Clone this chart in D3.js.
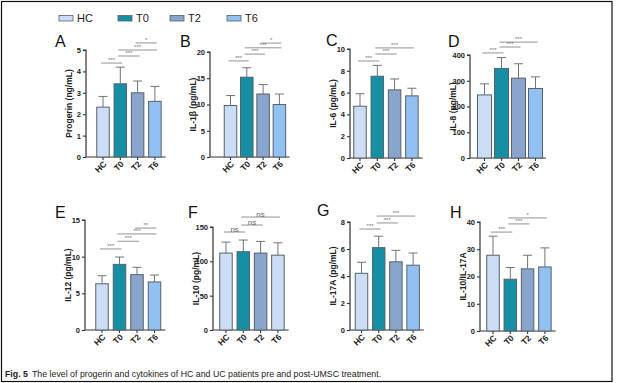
<!DOCTYPE html>
<html><head><meta charset="utf-8">
<script src="https://cdn.jsdelivr.net/npm/d3@7"></script>
<style>
html,body{margin:0;padding:0;background:#fff;}
svg{display:block;font-family:"Liberation Sans",Arial,sans-serif;}
</style></head>
<body><svg id="c" width="619" height="383"></svg>
<script>
// ---------- data ----------
const groups = ["HC", "T0", "T2", "T6"];
const panelLetters = ["A", "B", "C", "D", "E", "F", "G", "H"];
const yTitles = ["Progerin (ng/mL)", "IL-1β (pg/mL)", "IL-6 (pg/mL)", "IL-8 (pg/mL)",
                 "IL-12 (pg/mL)", "IL-10 (pg/mL)", "IL-17A (pg/mL)", "IL-10/IL-17A"];

const progerinMean = [2.33, 3.42, 3.0, 2.6];
const progerinSD   = [0.5, 0.78, 0.55, 0.7];
const il1bMean = [9.8, 15.2, 12.0, 10.0];
const il1bSD   = [1.9, 1.8, 1.8, 2.0];
const il6Mean = [4.75, 7.5, 6.25, 5.7];
const il6SD   = [1.15, 1.0, 1.0, 0.7];
const il8Mean = [245, 348, 310, 270];
const il8SD   = [43, 42, 56, 45];
const il12Mean = [6.3, 8.95, 7.55, 6.55];
const il12SD   = [1.1, 1.0, 1.0, 0.95];
const il10Mean = [112, 114, 112, 109];
const il10SD   = [16, 17, 17, 18];
const il17aMean = [4.2, 6.1, 5.05, 4.8];
const il17aSD   = [0.82, 0.85, 0.85, 0.9];
const ratioMean = [27.8, 19.0, 22.8, 23.5];
const ratioSD   = [7.0, 4.3, 5.0, 7.0];

const ticksA = [0, 1, 2, 3, 4, 5];
const ticksB = [0, 5, 10, 15, 20];
const ticksC = [0, 2, 4, 6, 8, 10];
const ticksD = [0, 100, 200, 300, 400];
const ticksE = [0, 5, 10, 15];
const ticksF = [0, 50, 100, 150];
const ticksG = [0, 2, 4, 6, 8];
const ticksH = [0, 10, 20, 30, 40];

// significance brackets: [from group, to group, level (data units), label]
const sigA = [[0, 1, 4.39, "***"], [1, 2, 4.72, "***"], [1, 3, 5.0, "***"], [2, 3, 5.33, "*"]];
const sigB = [[0, 1, 18.3, "***"], [1, 2, 19.6, "***"], [1, 3, 20.8, "***"], [2, 3, 21.7, "*"]];
const sigC = [[0, 1, 8.9, "***"], [1, 2, 9.54, "***"], [1, 3, 10.1, "***"]];
const sigD = [[0, 1, 408, "***"], [1, 2, 431, "***"], [1, 3, 450, "***"]];
const sigE = [[0, 1, 11.05, "***"], [1, 2, 12.1, "***"], [1, 3, 13.1, "***"], [2, 3, 13.9, "**"]];
const sigF = [[0, 1, 142.7, "ns"], [1, 2, 152.9, "ns"], [1, 3, 164.5, "ns"]];
const sigG = [[0, 1, 7.48, "***"], [1, 2, 7.93, "***"], [1, 3, 8.44, "***"]];
const sigH = [[0, 1, 36.3, "***"], [1, 2, 39.3, "***"], [1, 3, 41.5, "*"]];

// ---------- styles / layout ----------
const fills = {HC: "#cbdef6", T0: "#168ea3", T2: "#89a5cb", T6: "#92c0f1"};
const strokeCol = "#56616b";
const axisCol = "#333";

const means = [progerinMean, il1bMean, il6Mean, il8Mean, il12Mean, il10Mean, il17aMean, ratioMean];
const sds = [progerinSD, il1bSD, il6SD, il8SD, il12SD, il10SD, il17aSD, ratioSD];
const ticks = [ticksA, ticksB, ticksC, ticksD, ticksE, ticksF, ticksG, ticksH];
const sigs = [sigA, sigB, sigC, sigD, sigE, sigF, sigG, sigH];

// layout: axis x, zero y, top y, first bar centre, step, bar width, letter x, letter baseline
const layout = [
  {ax: 86,  y0: 157, yt: 50,  c0: 103,   step: 17.3, bw: 12.5, lx: 55,  ly: 47},
  {ax: 210, y0: 157, yt: 52,  c0: 230.5, step: 16.3, bw: 12.5, lx: 180, ly: 47},
  {ax: 350, y0: 158, yt: 49,  c0: 360,   step: 17.3, bw: 12.5, lx: 326, ly: 46},
  {ax: 470, y0: 158, yt: 55,  c0: 484.5, step: 17.0, bw: 14,   lx: 448, ly: 47},
  {ax: 85,  y0: 330, yt: 220, c0: 102,   step: 17.5, bw: 12.5, lx: 55,  ly: 218},
  {ax: 213, y0: 330, yt: 227, c0: 226,   step: 17.3, bw: 12.5, lx: 188, ly: 218},
  {ax: 350, y0: 330, yt: 222, c0: 361.5, step: 17.2, bw: 12.5, lx: 317, ly: 216},
  {ax: 480, y0: 331, yt: 222, c0: 493,   step: 17.3, bw: 12.5, lx: 450, ly: 218}
];
// panel F draws its T6 bar in the HC colour
const panelFills = [null, null, null, null, null, ["HC", "T0", "T2", "HC"], null, null];

const svg = d3.select("#c");
svg.append("rect").attr("width", 619).attr("height", 383).attr("fill", "#fff");
svg.append("rect").attr("x", 1.5).attr("y", 1.5).attr("width", 610.5).attr("height", 380)
  .attr("fill", "none").attr("stroke", "#111").attr("stroke-width", 1.2);

// legend
const legX = [59, 118, 170, 227];
const leg = svg.append("g");
groups.forEach((g, i) => {
  leg.append("rect").attr("x", legX[i]).attr("y", 15.5).attr("width", 14).attr("height", 5.5)
    .attr("fill", fills[g]).attr("stroke", strokeCol).attr("stroke-width", 0.8);
  leg.append("text").attr("x", legX[i] + 18).attr("y", 22).attr("font-size", 11)
    .attr("fill", "#222").text(g);
});

layout.forEach((L, p) => {
  const g = svg.append("g");
  const tk = ticks[p];
  const y = d3.scaleLinear().domain([0, tk[tk.length - 1]]).range([L.y0, L.yt]);
  const x = d3.scalePoint().domain(groups).range([L.c0, L.c0 + 3 * L.step]);
  const xEnd = L.c0 + 3 * L.step + L.step * 0.62;

  // panel letter
  g.append("text").attr("x", L.lx).attr("y", L.ly).attr("font-size", 16)
    .attr("fill", "#111").text(panelLetters[p]);

  // y axis
  const yAxis = d3.axisLeft(y).tickValues(tk).tickSize(3).tickPadding(2).tickFormat(d3.format("d"));
  const ya = g.append("g").attr("transform", `translate(${L.ax},0)`).call(yAxis);
  ya.select(".domain").attr("stroke", axisCol).attr("stroke-width", 1.2).attr("d", `M-3,${L.yt}H0V${L.y0}`);
  ya.selectAll(".tick line").attr("stroke", axisCol).attr("stroke-width", 1.1);
  ya.selectAll(".tick text").attr("font-size", 7.5).attr("font-weight", "bold").attr("fill", "#222")
    .attr("font-family", "Liberation Sans, Arial, sans-serif");

  // x axis line
  g.append("line").attr("x1", L.ax).attr("x2", xEnd).attr("y1", L.y0).attr("y2", L.y0)
    .attr("stroke", axisCol).attr("stroke-width", 1.2);
  groups.forEach(k => {
    g.append("line").attr("x1", x(k)).attr("x2", x(k)).attr("y1", L.y0).attr("y2", L.y0 + 3)
      .attr("stroke", axisCol).attr("stroke-width", 1.1);
    g.append("text").attr("transform", `translate(${x(k) + 2.5},${L.y0 + 6}) rotate(-45)`)
      .attr("text-anchor", "end").attr("dominant-baseline", "middle")
      .attr("font-size", 8.5).attr("font-weight", "bold").attr("fill", "#222").text(k);
  });

  // y title
  g.append("text").attr("transform", `translate(${L.ax - 14},${(L.y0 + L.yt) / 2}) rotate(-90)`)
    .attr("text-anchor", "middle").attr("font-size", 8.5).attr("font-weight", "bold")
    .attr("fill", "#222").text(yTitles[p]);

  // error bars
  const m = means[p], s = sds[p];
  const pf = panelFills[p] || groups;
  groups.forEach((k, i) => {
    const cx = x(k);
    g.append("line").attr("x1", cx).attr("x2", cx).attr("y1", y(m[i])).attr("y2", y(m[i] + s[i]))
      .attr("stroke", "#6f7478").attr("stroke-width", 1);
    g.append("line").attr("x1", cx - 4.5).attr("x2", cx + 4.5).attr("y1", y(m[i] + s[i])).attr("y2", y(m[i] + s[i]))
      .attr("stroke", "#6f7478").attr("stroke-width", 1);
  });
  // bars
  g.selectAll("rect.bar").data(groups).enter().append("rect").attr("class", "bar")
    .attr("x", k => x(k) - L.bw / 2).attr("width", L.bw)
    .attr("y", (k, i) => y(m[i])).attr("height", (k, i) => L.y0 - y(m[i]))
    .attr("fill", (k, i) => fills[pf[i]]).attr("stroke", strokeCol).attr("stroke-width", 1);

  // significance brackets
  sigs[p].forEach(([a, b, lv, lab]) => {
    const yy = y(lv);
    const x1 = x(groups[a]) - 2, x2 = x(groups[b]) + 2;
    g.append("line").attr("x1", x1).attr("x2", x2).attr("y1", yy).attr("y2", yy)
      .attr("stroke", "#777").attr("stroke-width", 0.8);
    const ns = lab === "ns";
    g.append("text").attr("x", (x1 + x2) / 2).attr("y", ns ? yy - 0.5 : yy - 0.8)
      .attr("text-anchor", "middle").attr("font-size", ns ? 8 : 6)
      .attr("fill", ns ? "#666" : "#777").text(lab);
  });
});

// caption
const cap = svg.append("text").attr("x", 5).attr("y", 376.5).attr("font-size", 8)
  .attr("font-family", "'Liberation Sans Narrow','Liberation Sans',Arial,sans-serif").attr("fill", "#222");
cap.append("tspan").attr("font-weight", "bold").text("Fig. 5");
cap.append("tspan").attr("dx", 4).text("The level of progerin and cytokines of HC and UC patients pre and post-UMSC treatment.");
const capLen = cap.node().getComputedTextLength();
if (capLen > 0) cap.attr("font-size", Math.min(9, 8 * 373 / capLen));
</script>
</body></html>
